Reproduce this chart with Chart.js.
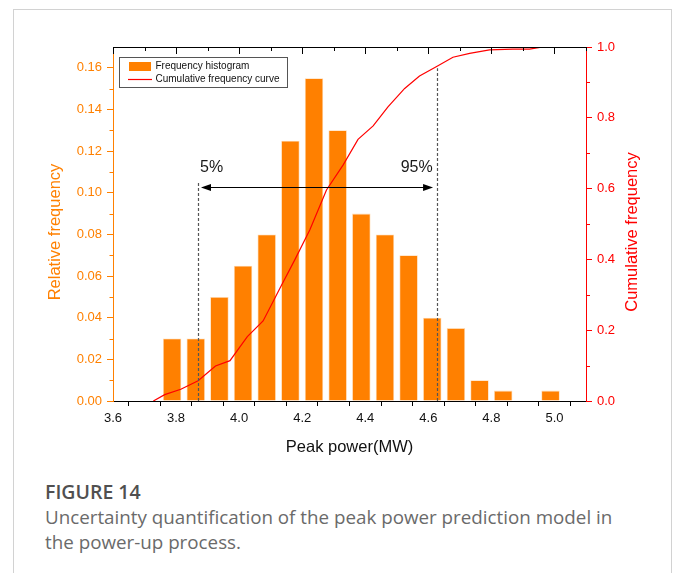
<!DOCTYPE html>
<html>
<head>
<meta charset="utf-8">
<script src="https://cdn.jsdelivr.net/npm/chart.js@4/dist/chart.umd.min.js"></script>
<style>
  html, body { margin: 0; padding: 0; background: #fff; }
  #wrap { position: relative; width: 682px; height: 573px; overflow: hidden; background: #fff; }
  #frame { position: absolute; left: 13px; top: 9px; width: 659px; height: 620px;
           border: 1px solid #d2d2d2; box-sizing: border-box; }
  #c { position: absolute; left: 0; top: 0; }
  .fig { position: absolute; left: 45px; top: 479px; font-family: "Open Sans", "Noto Sans", sans-serif;
         font-size: 19.5px; line-height: 26px; font-weight: 600; color: #505050; }
  .cap { position: absolute; left: 45px; top: 505px; width: 580px; font-family: "Open Sans", "Noto Sans", sans-serif;
         font-size: 18.8px; line-height: 25px; color: #6a6a6a; }
</style>
</head>
<body>
<div id="wrap">
  <div id="frame"></div>
  <canvas id="c" width="682" height="470"></canvas>
  <div class="fig">FIGURE 14</div>
  <div class="cap">Uncertainty quantification of the peak power prediction model in the power-up process.</div>
</div>
<script>
// Histogram bins (bin centre, MW) and relative frequency of each bin
const binCenters = [3.7875, 3.8625, 3.9375, 4.0125, 4.0875, 4.1625, 4.2375, 4.3125, 4.3875,
                    4.4625, 4.5375, 4.6125, 4.6875, 4.7625, 4.8375, 4.9125, 4.9875];
const relFreq    = [0.03, 0.03, 0.05, 0.065, 0.08, 0.125, 0.155, 0.13, 0.09,
                    0.08, 0.07, 0.04, 0.035, 0.01, 0.005, 0, 0.005];

// Cumulative frequency curve vertices
const cumX = [3.728, 3.764, 3.815, 3.870, 3.925, 3.971, 4.026, 4.076, 4.129, 4.176, 4.224, 4.277,
              4.330, 4.377, 4.425, 4.472, 4.525, 4.572, 4.625, 4.678, 4.731, 4.794, 4.868, 4.921, 4.963];
const cumY = [0, 0.018, 0.033, 0.057, 0.099, 0.114, 0.182, 0.226, 0.318, 0.398, 0.483, 0.596,
              0.667, 0.739, 0.777, 0.831, 0.883, 0.918, 0.944, 0.971, 0.982, 0.992, 0.994, 0.994, 1.0];

// 5% / 95% quantile markers (x in MW, heights on the cumulative axis)
const quantileX     = [3.868, 4.627];
const quantileTop   = [0.617, 0.94];
const quantileText  = ['5%', '95%'];
const quantileTextX = [3.876, 4.614];
const quantileTextY = 0.66;
const arrowSpan     = [3.879, 4.615];
const arrowLevel    = 0.604;

// Axis ranges
const xRange = [3.6, 5.1];
const yRange = [0, 0.17];
const y1Range = [0, 1.0];

const ORANGE = '#ff8000';
const RED = '#ff0000';
const FONT = '"Liberation Sans", Arial, sans-serif';

const seriesNames = ['Frequency histogram', 'Cumulative frequency curve'];

const decor = {
  id: 'decor',
  afterDatasetsDraw(chart) {
    const { ctx, scales: { x, y1 } } = chart;
    ctx.save();
    // dashed quantile lines
    ctx.strokeStyle = '#555';
    ctx.lineWidth = 1.2;
    ctx.setLineDash([3, 2]);
    quantileX.forEach((qx, i) => {
      const px = Math.round(x.getPixelForValue(qx)) + 0.5;
      ctx.beginPath();
      ctx.moveTo(px, y1.getPixelForValue(0));
      ctx.lineTo(px, y1.getPixelForValue(quantileTop[i]));
      ctx.stroke();
    });
    ctx.setLineDash([]);
    // double-headed arrow
    const ay = Math.round(y1.getPixelForValue(arrowLevel)) + 0.5;
    const ax0 = x.getPixelForValue(arrowSpan[0]);
    const ax1 = x.getPixelForValue(arrowSpan[1]);
    ctx.strokeStyle = '#000';
    ctx.fillStyle = '#000';
    ctx.lineWidth = 1;
    ctx.beginPath(); ctx.moveTo(ax0 + 4, ay); ctx.lineTo(ax1 - 4, ay); ctx.stroke();
    ctx.beginPath(); ctx.moveTo(ax0, ay); ctx.lineTo(ax0 + 10, ay - 3.5); ctx.lineTo(ax0 + 10, ay + 3.5); ctx.closePath(); ctx.fill();
    ctx.beginPath(); ctx.moveTo(ax1, ay); ctx.lineTo(ax1 - 10, ay - 3.5); ctx.lineTo(ax1 - 10, ay + 3.5); ctx.closePath(); ctx.fill();
    // quantile labels
    ctx.font = '16px ' + FONT;
    ctx.fillStyle = '#1a1a1a';
    ctx.textBaseline = 'middle';
    const ty = y1.getPixelForValue(quantileTextY);
    ctx.textAlign = 'left';
    ctx.fillText(quantileText[0], x.getPixelForValue(quantileTextX[0]), ty);
    ctx.textAlign = 'right';
    ctx.fillText(quantileText[1], x.getPixelForValue(quantileTextX[1]), ty);
    ctx.restore();
  },
  afterDraw(chart) {
    const { ctx, chartArea: a, scales: { x, y, y1 } } = chart;
    ctx.save();
    ctx.lineWidth = 1;
    // top frame line with inward ticks
    ctx.strokeStyle = '#000';
    ctx.beginPath();
    ctx.moveTo(a.left, a.top + 0.5); ctx.lineTo(a.right, a.top + 0.5);
    for (let v = 36; v <= 51; v++) {
      const px = Math.round(x.getPixelForValue(v / 10)) + 0.5;
      ctx.moveTo(px, a.top); ctx.lineTo(px, a.top + (v % 2 === 0 ? 7 : 4));
    }
    ctx.stroke();
    // minor ticks on left axis
    ctx.strokeStyle = ORANGE;
    ctx.beginPath();
    for (let v = 1; v <= 15; v += 2) {
      const py = Math.round(y.getPixelForValue(v / 100)) + 0.5;
      ctx.moveTo(a.left - 3.5, py); ctx.lineTo(a.left, py);
    }
    ctx.stroke();
    // minor ticks on right axis
    ctx.strokeStyle = RED;
    ctx.beginPath();
    for (let v = 1; v <= 9; v += 2) {
      const py = Math.round(y1.getPixelForValue(v / 10)) + 0.5;
      ctx.moveTo(a.right, py); ctx.lineTo(a.right + 4, py);
    }
    ctx.stroke();
    // vertical axis titles
    ctx.font = '16.5px ' + FONT;
    ctx.textAlign = 'center';
    ctx.textBaseline = 'middle';
    const midY = (a.top + a.bottom) / 2 + 8;
    ctx.fillStyle = ORANGE;
    ctx.save(); ctx.translate(55, midY); ctx.rotate(-Math.PI / 2);
    ctx.fillText('Relative frequency', 0, 0); ctx.restore();
    ctx.fillStyle = RED;
    ctx.save(); ctx.translate(632, midY); ctx.rotate(-Math.PI / 2);
    ctx.fillText('Cumulative frequency', 0, 0); ctx.restore();
    // legend box
    const lx = a.left + 6.5, ly = a.top + 10.5, lw = 168, lh = 30;
    ctx.strokeStyle = '#555';
    ctx.strokeRect(lx, ly, lw, lh);
    const ds = chart.data.datasets;
    ctx.fillStyle = ds[0].backgroundColor;
    ctx.fillRect(lx + 9.5, ly + 4.5, 22, 9);
    ctx.strokeStyle = ds[1].borderColor;
    ctx.lineWidth = 1.2;
    ctx.beginPath(); ctx.moveTo(lx + 8.5, ly + 22); ctx.lineTo(lx + 32.5, ly + 22); ctx.stroke();
    ctx.font = '10px ' + FONT;
    ctx.fillStyle = '#111';
    ctx.textAlign = 'left';
    ctx.fillText(ds[0].label, lx + 36, ly + 9);
    ctx.fillText(ds[1].label, lx + 36, ly + 22);
    ctx.restore();
  }
};

new Chart(document.getElementById('c'), {
  type: 'bar',
  data: {
    datasets: [
      {
        type: 'bar',
        label: seriesNames[0],
        data: binCenters.map((c, i) => ({ x: c, y: relFreq[i] })),
        backgroundColor: ORANGE,
        borderColor: '#ffd9b0',
        borderWidth: 0.8,
        barPercentage: 0.78,
        categoryPercentage: 1,
        xAxisID: 'x',
        yAxisID: 'y',
        order: 2
      },
      {
        type: 'line',
        label: seriesNames[1],
        data: cumX.map((c, i) => ({ x: c, y: cumY[i] })),
        borderColor: RED,
        borderWidth: 1.2,
        pointRadius: 0,
        tension: 0,
        fill: false,
        xAxisID: 'x',
        yAxisID: 'y1',
        order: 1
      }
    ]
  },
  options: {
    responsive: false,
    animation: false,
    devicePixelRatio: 1,
    layout: { padding: { left: 0, top: 47, right: 0, bottom: 0 } },
    plugins: { legend: { display: false }, tooltip: { enabled: false } },
    scales: {
      x: {
        type: 'linear',
        position: 'bottom',
        min: xRange[0], max: xRange[1],
        offset: false,
        afterFit: s => { s.height = 69; },
        grid: { drawOnChartArea: false, drawTicks: true, tickLength: 5, color: '#000', tickColor: '#000' },
        border: { color: '#000', width: 1 },
        ticks: {
          stepSize: 0.1, autoSkip: false, maxRotation: 0, includeBounds: false,
          padding: 5, color: '#111', font: { family: FONT, size: 13 },
          callback: v => (Math.round(v * 10) % 2 === 0 && v < 5.05) ? v.toFixed(1) : ''
        },
        title: { display: true, text: 'Peak power(MW)', color: '#111',
                 font: { family: FONT, size: 16.5 }, padding: { top: 0, bottom: 13 } }
      },
      y: {
        type: 'linear',
        position: 'left',
        min: yRange[0], max: yRange[1],
        afterFit: s => { s.width = 113; },
        grid: { drawOnChartArea: false, drawTicks: true, tickLength: 6, tickColor: ORANGE },
        border: { color: ORANGE, width: 1 },
        ticks: { stepSize: 0.02, includeBounds: false, padding: 5, color: ORANGE,
                 font: { family: FONT, size: 13 }, callback: v => v.toFixed(2) }
      },
      y1: {
        type: 'linear',
        position: 'right',
        min: y1Range[0], max: y1Range[1],
        afterFit: s => { s.width = 96; },
        grid: { drawOnChartArea: false, drawTicks: true, tickLength: 6, tickColor: RED },
        border: { color: RED, width: 1 },
        ticks: { stepSize: 0.2, includeBounds: false, padding: 5, color: RED,
                 font: { family: FONT, size: 13 }, callback: v => v.toFixed(1) }
      }
    }
  },
  plugins: [decor]
});
</script>
</body>
</html>
